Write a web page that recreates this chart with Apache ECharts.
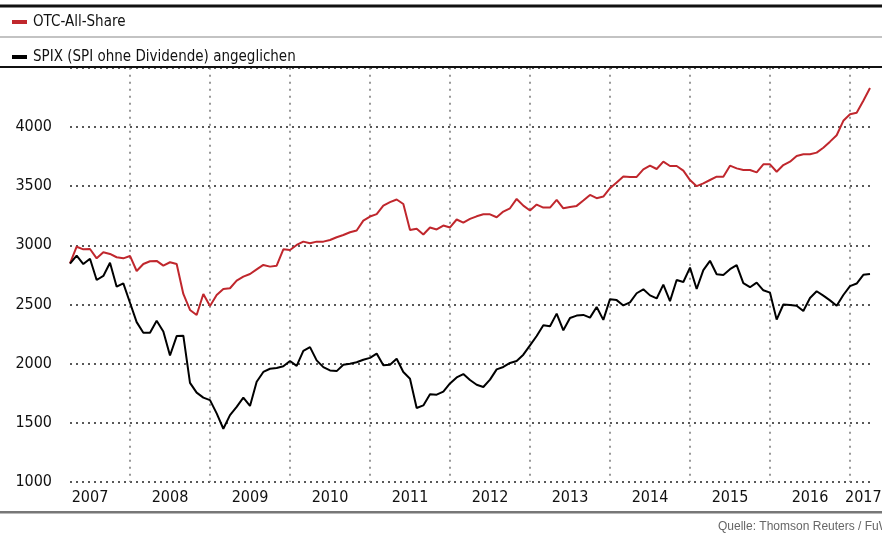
<!DOCTYPE html>
<html>
<head>
<meta charset="utf-8">
<title>OTC-All-Share vs SPIX</title>
<script src="https://cdn.jsdelivr.net/npm/echarts@6/dist/echarts.min.js"></script>
<style>
    html, body { margin: 0; padding: 0; background: #fff; }
    #chart { width: 882px; height: 541px; }
</style>
</head>
<body>
<div id="chart"></div>
<script>
    // Monatswerte ab April 2007
    var otcAllShare = [
        2848, 2988, 2966, 2969, 2890, 2941, 2927, 2899, 2890, 2910,
        2783, 2842, 2865, 2868, 2828, 2857, 2842, 2589, 2454, 2411,
        2589, 2487, 2580, 2631, 2637, 2701, 2735, 2758, 2797, 2834,
        2820, 2828, 2966, 2960, 3003, 3031, 3017, 3031, 3031, 3045,
        3068, 3087, 3110, 3125, 3209, 3243, 3264, 3336, 3365, 3387,
        3349, 3129, 3140, 3091, 3151, 3134, 3167, 3151, 3218, 3191,
        3223, 3245, 3262, 3262, 3237, 3285, 3313, 3392, 3335, 3294,
        3344, 3319, 3319, 3384, 3313, 3324, 3333, 3378, 3426, 3398,
        3412, 3483, 3531, 3582, 3577, 3578, 3642, 3673, 3645, 3707,
        3670, 3670, 3631, 3551, 3500, 3523, 3552, 3580, 3580, 3673,
        3650, 3636, 3636, 3616, 3684, 3684, 3622, 3678, 3707, 3755,
        3769, 3769, 3783, 3825, 3876, 3930, 4052, 4108, 4120, 4222,
        4329
    ];
    var spixAdjusted = [
        2845, 2913, 2842, 2887, 2707, 2741, 2853, 2650, 2679, 2515,
        2351, 2261, 2261, 2363, 2272, 2069, 2233, 2236, 1838, 1755,
        1713, 1692, 1580, 1450, 1565, 1635, 1713, 1643, 1847, 1930,
        1957, 1964, 1978, 2023, 1981, 2108, 2140, 2028, 1971, 1943,
        1937, 1990, 2000, 2012, 2033, 2049, 2085, 1986, 1991, 2042,
        1930, 1873, 1625, 1647, 1741, 1738, 1763, 1833, 1884, 1912,
        1862, 1822, 1803, 1865, 1952, 1972, 2006, 2023, 2076, 2155,
        2234, 2324, 2316, 2423, 2282, 2386, 2406, 2412, 2389, 2479,
        2370, 2545, 2537, 2492, 2518, 2595, 2628, 2577, 2551, 2668,
        2528, 2707, 2690, 2812, 2631, 2790, 2869, 2756, 2750, 2798,
        2833, 2680, 2646, 2685, 2620, 2600, 2372, 2500, 2495, 2490,
        2445, 2555, 2612, 2575, 2535, 2490, 2580, 2655, 2677, 2751,
        2758
    ];
    // Monate, an denen die Jahreszahl steht
    var yearLabelMonths = ['2007-07', '2008-07', '2009-07', '2010-07', '2011-07', '2012-07',
        '2013-07', '2014-07', '2015-07', '2016-07', '2017-03'];

    var months = [];
    var yy = 2007, mm = 4;
    while (months.length < otcAllShare.length) {
        months.push(yy + '-' + (mm < 10 ? '0' + mm : mm));
        mm++;
        if (mm > 12) { mm = 1; yy++; }
    }

    var font = "'Liberation Sans Narrow', 'DejaVu Sans Condensed', sans-serif";
    var red = '#c0272d';

    var chart = echarts.init(document.getElementById('chart'));
    var option = {
        animation: false,
        backgroundColor: '#fff',
        textStyle: { fontFamily: font },
        legend: {
            orient: 'vertical',
            left: 12,
            top: 13,
            padding: 0,
            itemGap: 17,
            itemWidth: 15,
            itemHeight: 4,
            icon: 'rect',
            textStyle: { fontFamily: font, fontSize: 15, color: '#111', lineHeight: 18, padding: [0, 0, 0, 1] },
            data: ['OTC-All-Share', 'SPIX (SPI ohne Dividende) angeglichen']
        },
        grid: {
            left: 70,
            right: 12,
            top: 67.8,
            bottom: 59,
            containLabel: false,
            outerBoundsMode: 'none'
        },
        xAxis: {
            type: 'category',
            boundaryGap: false,
            data: months,
            axisLine: { show: false },
            axisTick: { show: false },
            axisLabel: {
                interval: function (index, value) {
                    return yearLabelMonths.indexOf(value) >= 0;
                },
                formatter: function (value) { return value.slice(0, 4); },
                fontFamily: font,
                fontSize: 16,
                color: '#111',
                margin: 8
            },
            splitLine: {
                show: true,
                interval: function (index, value) {
                    return index > 0 && value.slice(5) === '01';
                },
                lineStyle: { color: '#777', type: [2, 5], width: 1.5 }
            }
        },
        yAxis: {
            type: 'value',
            min: 1000,
            max: 4500,
            interval: 500,
            axisLine: { show: false },
            axisTick: { show: false },
            axisLabel: {
                showMaxLabel: false,
                formatter: function (v) { return String(v); },
                fontFamily: font,
                fontSize: 16,
                color: '#111',
                margin: 18
            },
            splitLine: {
                lineStyle: { color: '#222', type: [2, 4], width: 1.5 }
            }
        },
        series: [
            {
                name: 'OTC-All-Share',
                type: 'line',
                data: otcAllShare,
                symbol: 'none',
                lineStyle: { color: red, width: 2 },
                itemStyle: { color: red }
            },
            {
                name: 'SPIX (SPI ohne Dividende) angeglichen',
                type: 'line',
                data: spixAdjusted,
                symbol: 'none',
                lineStyle: { color: '#000', width: 2 },
                itemStyle: { color: '#000' }
            }
        ],
        graphic: [
            { type: 'rect', z: 100, shape: { x: 0, y: 4.5, width: 882, height: 3 }, style: { fill: '#111' } },
            { type: 'rect', z: 100, shape: { x: 0, y: 36.5, width: 882, height: 1 }, style: { fill: '#888' } },
            { type: 'rect', z: 100, shape: { x: 0, y: 66, width: 882, height: 2 }, style: { fill: '#111' } },
            { type: 'rect', z: 100, shape: { x: 0, y: 511, width: 882, height: 2.5 }, style: { fill: '#777' } },
            {
                type: 'text', z: 100, left: 718, top: 521,
                style: {
                    text: 'Quelle: Thomson Reuters / FuW',
                    fontFamily: "'Liberation Sans', 'DejaVu Sans', sans-serif",
                    fontSize: 12,
                    fill: '#666'
                }
            }
        ]
    };
    chart.setOption(option);
</script>
</body>
</html>
